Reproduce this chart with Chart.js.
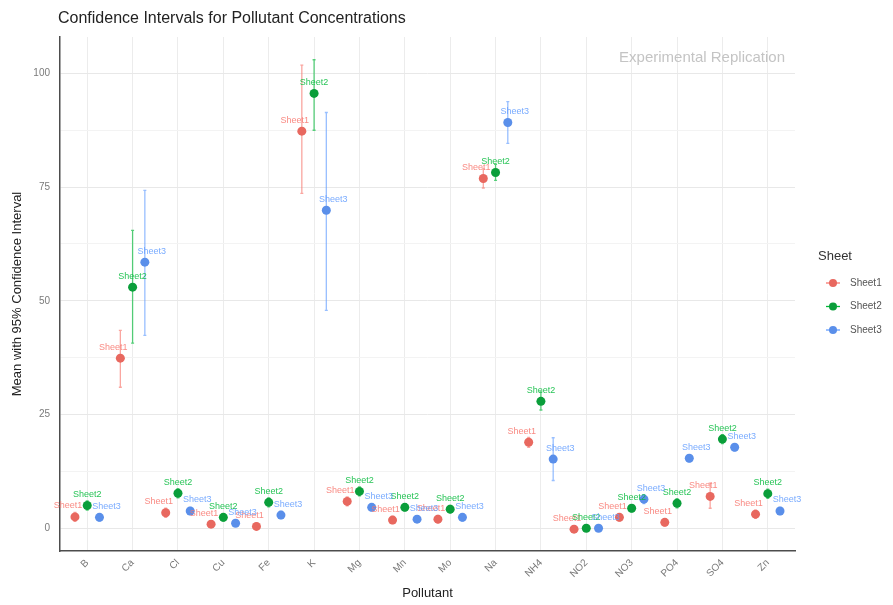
<!DOCTYPE html>
<html>
<head>
<meta charset="utf-8">
<script src="https://cdn.jsdelivr.net/npm/chart.js@4/dist/chart.umd.min.js"></script>
<style>
  html, body { margin: 0; padding: 0; background: #fff; }
</style>
</head>
<body>
<canvas id="ci-chart" width="893" height="605"></canvas>
<script>
const categories = ["B", "Ca", "Cl", "Cu", "Fe", "K", "Mg", "Mn", "Mo", "Na", "NH4", "NO2", "NO3", "PO4", "SO4", "Zn"];
const sheetNames = ["Sheet1", "Sheet2", "Sheet3"];

const sheet1Mean = [2.5, 37.4, 3.4, 0.9, 0.4, 87.3, 5.9, 1.8, 2.0, 76.9, 18.9, -0.2, 2.4, 1.3, 7.0, 3.1];
const sheet1Low  = [1.5, 31.0, 2.4, 0.2, -0.3, 73.6, 4.9, 1.0, 1.2, 74.8, 17.8, -0.6, 1.6, 0.5, 4.4, 2.2];
const sheet1High = [3.5, 43.5, 4.4, 1.6, 1.1, 101.8, 6.9, 2.6, 2.8, 79.0, 20.0, 0.2, 3.2, 2.1, 9.9, 4.0];

const sheet2Mean = [5.0, 53.0, 7.7, 2.4, 5.7, 95.6, 8.1, 4.6, 4.2, 78.2, 27.9, 0.0, 4.4, 5.5, 19.6, 7.6];
const sheet2Low  = [4.0, 40.7, 6.7, 1.6, 4.7, 87.5, 7.1, 3.8, 3.4, 76.5, 26.0, -0.4, 3.6, 4.5, 18.6, 6.6];
const sheet2High = [6.0, 65.5, 8.7, 3.2, 6.7, 103.0, 9.1, 5.4, 5.0, 80.0, 30.0, 0.4, 5.2, 6.5, 20.6, 8.6];

const sheet3Mean = [2.4, 58.5, 3.8, 1.1, 2.9, 69.9, 4.6, 2.0, 2.4, 89.2, 15.2, 0.0, 6.4, 15.4, 17.8, 3.8];
const sheet3Low  = [1.6, 42.4, 3.0, 0.4, 2.1, 47.9, 3.8, 1.3, 1.6, 84.6, 10.5, -0.4, 5.4, 14.6, 17.0, 3.0];
const sheet3High = [3.2, 74.3, 4.6, 1.8, 3.7, 91.4, 5.4, 2.7, 3.2, 93.8, 19.9, 0.4, 7.4, 16.2, 18.6, 4.6];

const yTicks = [0, 12.5, 25, 37.5, 50, 62.5, 75, 87.5, 100];

(function () {
    const colors = ["#F8766D", "#00BA38", "#619CFF"];
    const dotColors = ["#E8685F", "#0A9E3A", "#5A8FEA"];
    const dodge = [-0.27, 0, 0.27];
    const labelShift = [-7, 0, 7];
    const means = [sheet1Mean, sheet2Mean, sheet3Mean];
    const lows = [sheet1Low, sheet2Low, sheet3Low];
    const highs = [sheet1High, sheet2High, sheet3High];

    const datasets = sheetNames.map((name, s) => ({
        label: name,
        data: means[s].map((v, i) => ({x: i + dodge[s], y: v})),
        backgroundColor: dotColors[s],
        borderWidth: 0,
        pointRadius: 4.5,
        pointHoverRadius: 4.5,
    }));

    // error bars behind the points
    const errorBars = {
        id: "errorBars",
        beforeDatasetsDraw(chart) {
            const {ctx, scales: {x, y}} = chart;
            ctx.save();
            sheetNames.forEach((name, s) => {
                ctx.strokeStyle = colors[s];
                ctx.globalAlpha = 0.65;
                ctx.lineWidth = 1.3;
                means[s].forEach((v, i) => {
                    const px = x.getPixelForValue(i + dodge[s]);
                    const top = y.getPixelForValue(highs[s][i]);
                    const bot = y.getPixelForValue(lows[s][i]);
                    ctx.beginPath();
                    ctx.moveTo(px, top); ctx.lineTo(px, bot);
                    ctx.moveTo(px - 1.5, top); ctx.lineTo(px + 1.5, top);
                    ctx.moveTo(px - 1.5, bot); ctx.lineTo(px + 1.5, bot);
                    ctx.stroke();
                });
            });
            ctx.restore();
        },
    };

    // text labels, title, annotation, legend
    const decorations = {
        id: "decorations",
        afterDatasetsDraw(chart) {
            const {ctx, scales: {x, y}} = chart;
            ctx.save();
            ctx.font = "9px 'Liberation Sans', Arial, sans-serif";
            ctx.textAlign = "center";
            ctx.textBaseline = "middle";
            ctx.globalAlpha = 0.85;
            sheetNames.forEach((name, s) => {
                ctx.fillStyle = colors[s];
                means[s].forEach((v, i) => {
                    const px = x.getPixelForValue(i + dodge[s]);
                    const py = y.getPixelForValue(v);
                    ctx.fillText(name, px + labelShift[s], py - 11);
                });
            });
            ctx.globalAlpha = 1;

            ctx.fillStyle = "#222";
            ctx.textAlign = "left";
            ctx.font = "16px 'Liberation Sans', Arial, sans-serif";
            ctx.fillText("Confidence Intervals for Pollutant Concentrations", 58, 19);

            ctx.fillStyle = "#c4c4c4";
            ctx.textAlign = "right";
            ctx.font = "15px 'Liberation Sans', Arial, sans-serif";
            ctx.fillText("Experimental Replication", chart.chartArea.right - 10, 58);

            ctx.textAlign = "left";
            ctx.fillStyle = "#333";
            ctx.font = "13px 'Liberation Sans', Arial, sans-serif";
            ctx.fillText("Sheet", 818, 256);
            ctx.font = "10px 'Liberation Sans', Arial, sans-serif";
            sheetNames.forEach((name, s) => {
                const ly = 283 + s * 23.5;
                ctx.strokeStyle = colors[s];
                ctx.lineWidth = 1.3;
                ctx.beginPath();
                ctx.moveTo(826, ly); ctx.lineTo(840, ly);
                ctx.stroke();
                ctx.fillStyle = dotColors[s];
                ctx.beginPath();
                ctx.arc(833, ly, 4, 0, Math.PI * 2);
                ctx.fill();
                ctx.fillStyle = "#555";
                ctx.fillText(name, 850, ly);
            });
            ctx.restore();
        },
    };

    const canvas = document.getElementById("ci-chart");
    new Chart(canvas, {
        type: "scatter",
        data: {datasets},
        plugins: [errorBars, decorations],
        options: {
            responsive: false,
            animation: false,
            layout: {padding: {top: 37, right: 98, left: 0, bottom: 0}},
            plugins: {
                legend: {display: false},
                tooltip: {enabled: false},
            },
            scales: {
                x: {
                    type: "linear",
                    min: -0.6,
                    max: 15.6,
                    afterBuildTicks: (scale) => {
                        scale.ticks = categories.map((c, i) => ({value: i}));
                    },
                    afterFit: (scale) => { scale.height = 54; },
                    ticks: {
                        callback: (v) => categories[v],
                        maxRotation: 45,
                        minRotation: 45,
                        padding: 6,
                        color: "#7a7a7a",
                        font: {size: 10, family: "'Liberation Sans', Arial, sans-serif"},
                    },
                    grid: {color: "#ececec", drawTicks: false},
                    border: {display: true, color: "#4d4d4d", width: 1.5},
                    title: {
                        display: true,
                        text: "Pollutant",
                        color: "#222",
                        font: {size: 13, family: "'Liberation Sans', Arial, sans-serif"},
                    },
                },
                y: {
                    min: -5,
                    max: 108,
                    afterBuildTicks: (scale) => {
                        scale.ticks = yTicks.map((v) => ({value: v}));
                    },
                    afterFit: (scale) => { scale.width = 60; },
                    ticks: {
                        callback: (v) => (v % 25 === 0 ? v : ""),
                        padding: 10,
                        color: "#7a7a7a",
                        font: {size: 10, family: "'Liberation Sans', Arial, sans-serif"},
                    },
                    grid: {
                        color: (c) => (c.tick && c.tick.value % 25 === 0 ? "#e8e8e8" : "#f3f3f3"),
                        drawTicks: false,
                    },
                    border: {display: true, color: "#4d4d4d", width: 1.5},
                    title: {
                        display: true,
                        text: "Mean with 95% Confidence Interval",
                        color: "#222",
                        padding: {top: 10, bottom: 4},
                        font: {size: 13, family: "'Liberation Sans', Arial, sans-serif"},
                    },
                },
            },
        },
    });
})();
</script>
</body>
</html>
